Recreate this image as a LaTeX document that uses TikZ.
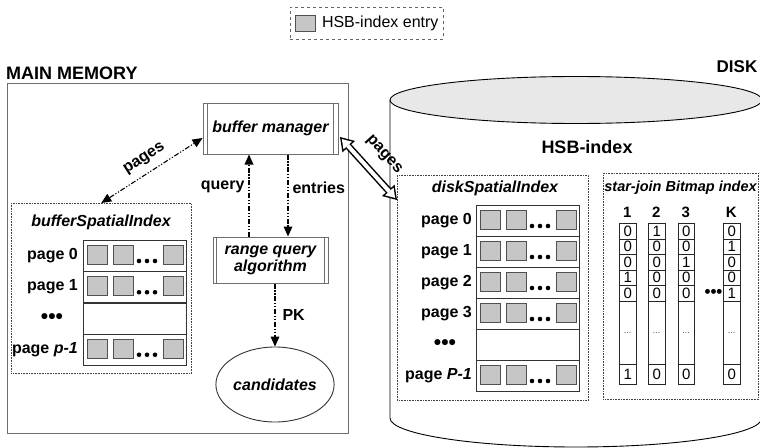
\documentclass[tikz,border=0pt]{standalone}
\usepackage{fontspec}
\setmainfont{Liberation Sans}
\usetikzlibrary{arrows.meta,shapes.geometric,calc}

\definecolor{entryfill}{HTML}{C6C6C6}
\definecolor{entryline}{HTML}{505050}
\definecolor{framegray}{HTML}{6E6E6E}
\definecolor{disktop}{HTML}{E8E8E8}

\tikzset{
  >={Triangle[length=10pt,width=9pt,line width=0pt]},
  lbl/.style={font=\fontsize{16}{17}\selectfont\bfseries, inner sep=0pt},
  ilbl/.style={font=\fontsize{16}{17}\selectfont\bfseries\itshape, inner sep=0pt},
  bigbul/.style={font=\fontsize{21}{21}\selectfont\bfseries, inner sep=0pt},
  entry/.style={fill=entryfill, draw=entryline, line width=0.8pt},
  procbox/.style={draw=framegray, line width=1pt, fill=white, inner sep=0pt},
  zone/.style={draw=black!75, densely dotted, line width=0.6pt, inner sep=0pt, anchor=north west},
  flow/.style={line width=1.1pt, dash pattern=on 5pt off 1.8pt on 1.2pt off 1.8pt on 1.2pt off 1.8pt},
  pagecell/.style={draw=black!80, line width=0.8pt, inner sep=0pt, minimum width=103pt, minimum height=31pt, anchor=north west},
  bitcell/.style={draw=black!85, line width=0.9pt, inner sep=0pt, minimum width=16.5pt, minimum height=15.5pt, anchor=north west, font=\fontsize{15}{16}\selectfont},
  pics/entries/.style={code={
    \draw[entry] (4,5.5) rectangle (24,24.5);
    \draw[entry] (30.5,5.5) rectangle (50.5,24.5);
    \draw[entry] (80.5,5.5) rectangle (100.5,24.5);
    \foreach \dx in {56,64,72} \fill (\dx,21) circle (2.3pt);
  }}
}

\begin{document}
\begin{tikzpicture}[x=1pt,y=-1pt]
\useasboundingbox (0,0) rectangle (760,447);
\clip (0,0) rectangle (760,447);

% legend
\node[draw=black!60, dashed, line width=0.7pt, minimum width=153pt, minimum height=32pt, anchor=north west, inner sep=0pt] (leg) at (290,7) {};
\node[entry, minimum width=20pt, minimum height=16pt, anchor=west, inner sep=0pt] (legsq) at ([xshift=5pt]leg.west) {};
\node[font=\fontsize{16}{17}\selectfont, anchor=west, inner sep=0pt] (legtx) at ([xshift=6pt]legsq.east) {HSB-index entry};

% disk cylinder
\draw[line width=0.9pt] (390,100) -- (390,418) arc[start angle=180, end angle=0, x radius=186, y radius=29] -- (762,100);
\draw[line width=0.9pt, fill=disktop] (576,100) ellipse [x radius=186, y radius=23.5];
\node[lbl, font=\fontsize{17}{18}\selectfont\bfseries] (disk) at (737,67) {DISK};
\node[lbl, font=\fontsize{18}{19}\selectfont\bfseries] (hsb) at (587,147) {HSB-index};

% main memory
\node[lbl, font=\fontsize{18}{19}\selectfont\bfseries, anchor=west] (mmtitle) at (6,73) {MAIN MEMORY};
\node[draw=framegray, line width=1.4pt, minimum width=341pt, minimum height=350pt, anchor=north west, inner sep=0pt] (mm) at (7,83) {};

% buffer manager
\node[procbox, ilbl, minimum width=135pt, minimum height=51pt] (bm) at (270.5,128.5) {buffer manager};
\draw[framegray, line width=1pt] ([xshift=5pt]bm.north west) -- ([xshift=5pt]bm.south west);
\draw[framegray, line width=1pt] ([xshift=-5pt]bm.north east) -- ([xshift=-5pt]bm.south east);

% range query algorithm
\node[procbox, ilbl, align=center, minimum width=115pt, minimum height=46pt] (rq) at (270.5,260) {range query\\algorithm};
\draw[framegray, line width=1pt] ([xshift=4pt]rq.north west) -- ([xshift=4pt]rq.south west);
\draw[framegray, line width=1pt] ([xshift=-4pt]rq.north east) -- ([xshift=-4pt]rq.south east);

% candidates
\node[draw=black!80, ellipse, line width=0.9pt, minimum width=106pt, minimum height=75pt, inner sep=0pt, ilbl] (cand) at (275,384.5) {candidates};

% bufferSpatialIndex
\node[zone, minimum width=180pt, minimum height=170pt] (bsi) at (11,203) {};
\node[ilbl] (bsit) at (101,222) {bufferSpatialIndex};
\foreach \r/\txt in {0/page 0, 1/page 1, 3/page \textit{p-1}} {
  \node[pagecell] (b\r) at (83,240+31.25*\r) {};
  \pic at (b\r.north west) {entries};
  \node[lbl, anchor=east] (bl\r) at ([xshift=-5pt]b\r.west) {\txt};
}
\node[pagecell] (b2) at (83,302.5) {};
\node[bigbul] (bl2) at ([xshift=-31pt]b2.west) {•••};

% diskSpatialIndex
\node[zone, minimum width=191pt, minimum height=225pt] (dsi) at (397,175) {};
\node[ilbl] (dsit) at (495,188) {diskSpatialIndex};
\foreach \r/\txt in {0/page 0, 1/page 1, 2/page 2, 3/page 3, 5/page \textit{P-1}} {
  \node[pagecell] (d\r) at (476,205+31*\r) {};
  \pic at (d\r.north west) {entries};
  \node[lbl, anchor=east] (dl\r) at ([xshift=-4pt]d\r.west) {\txt};
}
\node[pagecell] (d4) at (476,329) {};
\node[bigbul] (dl4) at ([xshift=-31pt]d4.west) {•••};

% star-join bitmap index
\node[zone, minimum width=155pt, minimum height=226pt] (sbi) at (603,173) {};
\node[ilbl, font=\fontsize{14.5}{16}\selectfont\bfseries\itshape] (sbit) at (680.5,188) {star-join Bitmap index};
\foreach \cx/\hd/\va/\vb/\vc/\vd/\ve/\vl [count=\c] in
  {619/1/0/0/0/1/0/1, 648/2/1/0/0/0/0/0, 677.5/3/0/0/1/0/0/0, 723/K/0/1/0/0/1/0} {
  \node[lbl, font=\fontsize{15}{16}\selectfont\bfseries] (h\c) at (\cx+8.25,212) {\hd};
  \foreach \v [count=\r from 0] in {\va,\vb,\vc,\vd,\ve}
    \node[bitcell] (c\c-\r) at (\cx,223+15.5*\r) {\v};
  \node[bitcell, minimum height=63.5pt, font=\fontsize{9}{10}\selectfont, text=black!70] (c\c-g) at (\cx,300.5) {...};
  \node[bitcell, minimum height=20pt] (c\c-l) at (\cx,364) {\vl};
}
\node[bigbul, font=\fontsize{17}{17}\selectfont\bfseries] (bitdots) at (713.5,293) {•••};

% data flow between components
\draw[flow, <->] (bsi.north) -- ([yshift=-9.5pt]bm.west)
  node[midway, sloped, above=7pt, lbl] (pglbl) {pages};
\draw[flow, ->] ([xshift=-21.5pt]rq.north) -- ([xshift=-21.5pt]bm.south)
  node[pos=0.6, left=4pt, lbl] (qlbl) {query};
\draw[flow, ->] ([xshift=17.5pt]bm.south) -- ([xshift=17.5pt]rq.north)
  node[pos=0.4, right=4pt, lbl] (elbl) {entries};
\draw[flow, ->] (rq.south -| cand.north) -- (cand.north)
  node[midway, right=7pt, lbl] (pklbl) {PK};

% hollow double arrow between buffer manager and disk index
\draw[line width=7pt, {Triangle[length=13pt,width=17pt,line width=0pt]}-{Triangle[length=13pt,width=17pt,line width=0pt]}]
  ([xshift=1.5pt,yshift=-8.5pt]bm.east) -- ([yshift=-25pt]dsi.north west)
  node[midway, sloped, above=11pt, lbl] (dpglbl) {pages};
\draw[white, line width=4pt, shorten <=2.74pt, shorten >=2.74pt,
  {Triangle[length=8.76pt,width=11.46pt,line width=0pt]}-{Triangle[length=8.76pt,width=11.46pt,line width=0pt]}]
  ([xshift=1.5pt,yshift=-8.5pt]bm.east) -- ([yshift=-25pt]dsi.north west);
\end{tikzpicture}
\end{document}
